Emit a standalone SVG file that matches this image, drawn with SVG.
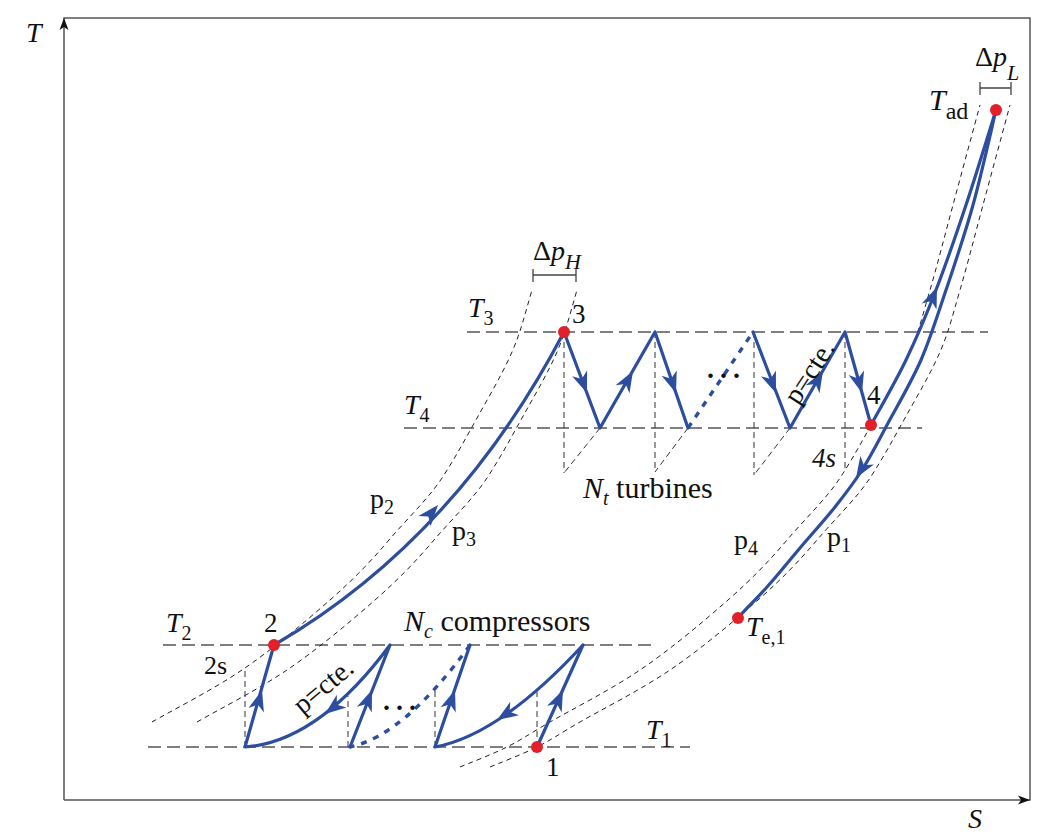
<svg xmlns="http://www.w3.org/2000/svg" xmlns:xlink="http://www.w3.org/1999/xlink" width="1056" height="836" viewBox="0 0 1056 836" font-family="'Liberation Serif', 'Times New Roman', serif" font-size="27">
<defs>
<style>
.frame{fill:none;stroke:#555;stroke-width:1.5}
.tl{fill:none;stroke:#555;stroke-width:1.3;stroke-dasharray:13 6}
.iso{fill:none;stroke:#222;stroke-width:1;stroke-dasharray:5 4}
.vs{fill:none;stroke:#333;stroke-width:1;stroke-dasharray:6 4}
.pr{fill:none;stroke:#2d4d9e;stroke-width:3.2;stroke-linecap:round;stroke-linejoin:round}
.dt{fill:none;stroke:#2d4d9e;stroke-width:3.4;stroke-dasharray:6 7}
.ah{fill:#2d4d9e}
.pt{fill:#e3202a}
.br{fill:none;stroke:#444;stroke-width:1.3}
.it{font-style:italic}
</style>
<path id="ah" d="M0,0 L-21,-8 L-15,0 L-21,8 Z"/>
<path id="base" d="M490,767 C497.8,763.7 522,754.5 537,747 C552,739.5 557.8,734.8 580,722 C602.2,709.2 640,690.3 670,670 C700,649.7 733,622 758,600 C783,578 800,560 817,540 C834,520 856.7,498.3 870,478 C883.3,457.7 893.3,439 905,418 C916.7,397 930.8,373.3 940,352 C949.2,330.7 952.8,314.5 960,290 C967.2,265.5 974.7,235.8 983,205 C991.3,174.2 1005.5,121.7 1010,105"/>
<path id="sub" d="M580,722 C602.2,709.2 640,690.3 670,670 C700,649.7 733,622 758,600 C783,578 800,560 817,540 C834,520 856.7,498.3 870,478 C883.3,457.7 893.3,439 905,418 C916.7,397 930.8,373.3 940,352 C949.2,330.7 952.8,314.5 960,290"/>
</defs>
<rect width="1056" height="836" fill="#fff"/>

<g id="axes" fill="#111">
<path class="frame" d="M64,800 V18 H1030 V800 H64"/>
<polygon points="64,18 59.5,30 64,27 68.5,30"/>
<polygon points="1030,800 1018,795.5 1021,800 1018,804.5"/>
<text x="26" y="42" class="it" font-size="28">T</text>
<text x="968" y="828" class="it" font-size="28">S</text>
</g>

<g id="isotherms" fill="#111">
<path class="tl" d="M467,332 H988"/>
<path class="tl" d="M404,428 H922"/>
<path class="tl" d="M163,645 H652"/>
<path class="tl" d="M148,747 H690"/>
<text x="468" y="317" class="it" font-size="28">T<tspan font-style="normal" font-size="20" dy="8">3</tspan></text>
<text x="404" y="414" class="it" font-size="28">T<tspan font-style="normal" font-size="20" dy="8">4</tspan></text>
<text x="166" y="632" class="it" font-size="28">T<tspan font-style="normal" font-size="20" dy="8">2</tspan></text>
<text x="646" y="739" class="it" font-size="28">T<tspan font-style="normal" font-size="20" dy="8">1</tspan></text>
</g>

<g id="isobars" fill="#111">
<use xlink:href="#base" class="iso"/>
<use xlink:href="#base" class="iso" transform="translate(-30,0)"/>
<use xlink:href="#sub" class="iso" transform="translate(-383,0)"/>
<use xlink:href="#sub" class="iso" transform="translate(-428,0)"/>
<path class="br" d="M533,275 H576 M533,269 V282 M576,269 V282"/>
<path class="br" d="M980,88 H1011 M980,82 V95 M1011,82 V95"/>
<text x="533" y="260" font-size="28">Δ<tspan class="it">p</tspan><tspan class="it" font-size="22" dy="9">H</tspan></text>
<text x="975" y="66" font-size="28">Δ<tspan class="it">p</tspan><tspan class="it" font-size="22" dy="14">L</tspan></text>
<text x="370" y="508" font-size="28">p<tspan font-size="20" dy="6">2</tspan></text>
<text x="452" y="540" font-size="28">p<tspan font-size="20" dy="6">3</tspan></text>
<text x="734" y="549" font-size="28">p<tspan font-size="20" dy="6">4</tspan></text>
<text x="827" y="546" font-size="28">p<tspan font-size="20" dy="6">1</tspan></text>
</g>

<g id="isentropes">
<path class="vs" d="M564,332 V473 M600,428 L564,473"/>
<path class="vs" d="M655,332 V472 M688,428 L655,472"/>
<path class="vs" d="M754,332 V475 M790,428 L754,475"/>
<path class="vs" d="M845,332 V470"/>
<path class="vs" d="M245,747 V670"/>
<path class="vs" d="M348,747 V696"/>
<path class="vs" d="M435,747 V690"/>
<path class="vs" d="M537,747 V692"/>
</g>

<g id="connectors" fill="#111">
<path class="pr" d="M274,645 Q455,540 564,332"/>
<path class="pr" d="M564,332 L600,428 L655,332 L688,428"/>
<path class="dt" d="M688,428 L753,332"/>
<path class="pr" d="M753,332 L790,428 L845,332 L871,425"/>
<path class="pr" d="M871,425 C876.8,414.2 895.2,382.5 906,360 C916.8,337.5 926,315.8 936,290 C946,264.2 956,235 966,205 C976,175 991,125.8 996,110"/>
<path class="pr" d="M996,110 C992.2,125.8 981.3,175 973,205 C964.7,235 954.7,264.2 946,290 C937.3,315.8 930.8,337.5 921,360 C911.2,382.5 896.8,406.7 887,425 C877.2,443.3 870.7,456.3 862,470 C853.3,483.7 845.3,494 835,507 C824.7,520 811.3,534.7 800,548 C788.7,561.3 777.5,575.3 767,587 C756.5,598.7 742,612.8 738,618"/>
<path class="pr" d="M537,747 L583,645 Q500,735 435,747 L470,645"/>
<path class="dt" d="M470,645 Q405,735 350,747"/>
<path class="pr" d="M350,747 L390,645 Q318,742 245,747 L274,645"/>
<use xlink:href="#ah" class="ah" transform="translate(438,505) rotate(-50)"/>
<use xlink:href="#ah" class="ah" transform="translate(587,393) rotate(69.4)"/>
<use xlink:href="#ah" class="ah" transform="translate(633,371) rotate(-60.2)"/>
<use xlink:href="#ah" class="ah" transform="translate(676,393) rotate(71)"/>
<use xlink:href="#ah" class="ah" transform="translate(776,393) rotate(68.9)"/>
<use xlink:href="#ah" class="ah" transform="translate(823,371) rotate(-60.2)"/>
<use xlink:href="#ah" class="ah" transform="translate(862,393) rotate(74.4)"/>
<use xlink:href="#ah" class="ah" transform="translate(937,287) rotate(-68)"/>
<use xlink:href="#ah" class="ah" transform="translate(856,478) rotate(122)"/>
<use xlink:href="#ah" class="ah" transform="translate(563,690) rotate(-65.7)"/>
<use xlink:href="#ah" class="ah" transform="translate(497,720) rotate(147)"/>
<use xlink:href="#ah" class="ah" transform="translate(455,690) rotate(-71)"/>
<use xlink:href="#ah" class="ah" transform="translate(372,690) rotate(-68.6)"/>
<use xlink:href="#ah" class="ah" transform="translate(325,714) rotate(142.5)"/>
<use xlink:href="#ah" class="ah" transform="translate(262,690) rotate(-74)"/>
<text x="707" y="378" font-size="28" font-weight="bold" letter-spacing="6">...</text>
<text x="383" y="710" font-size="28" font-weight="bold" letter-spacing="6">...</text>
<text transform="translate(817,377) rotate(-57)" text-anchor="middle" font-size="28">p=cte.</text>
<text transform="translate(329,693) rotate(-40)" text-anchor="middle" font-size="28">p=cte.</text>
<text x="583" y="498" font-size="30"><tspan class="it">N</tspan><tspan class="it" font-size="20" dy="7">t</tspan><tspan dy="-7"> turbines</tspan></text>
<text x="404" y="631" font-size="30"><tspan class="it">N</tspan><tspan class="it" font-size="20" dy="7">c</tspan><tspan dy="-7"> compressors</tspan></text>
</g>

<g id="node-3" fill="#111"><circle class="pt" cx="564" cy="332" r="6"/><text x="572" y="323">3</text></g>
<g id="node-2" fill="#111"><circle class="pt" cx="274" cy="645" r="6"/><text x="264" y="632">2</text></g>
<g id="node-2s" fill="#111"><text x="204" y="674" font-size="26">2s</text></g>
<g id="node-1" fill="#111"><circle class="pt" cx="537" cy="747" r="6"/><text x="546" y="776">1</text></g>
<g id="node-4" fill="#111"><circle class="pt" cx="871" cy="425" r="6"/><text x="867" y="404">4</text></g>
<g id="node-4s" fill="#111"><text x="812" y="467" class="it">4s</text></g>
<g id="node-te1" fill="#111"><circle class="pt" cx="738" cy="618" r="6"/><text x="746" y="636" class="it" font-size="28">T<tspan font-style="normal" font-size="20" dy="8">e,1</tspan></text></g>
<g id="node-tad" fill="#111"><circle class="pt" cx="996" cy="110" r="6"/><text x="929" y="110" class="it" font-size="30">T<tspan font-style="normal" font-size="24" dy="9">ad</tspan></text></g>
</svg>
